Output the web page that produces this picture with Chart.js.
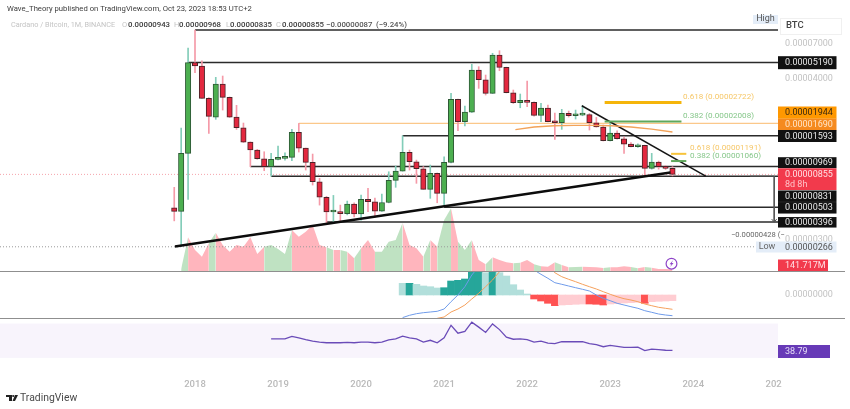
<!DOCTYPE html>
<html><head><meta charset="utf-8">
<style>html,body{margin:0;padding:0;background:#fff;overflow:hidden}canvas{display:block;filter:blur(0.35px)}</style>
<script src="https://cdn.jsdelivr.net/npm/chart.js@4"></script>
</head><body>
<canvas id="c" width="850" height="409"></canvas>
<script>
// Prices are in units of 0.00000001 BTC. Months are counted from Jan 2018 (0).
const firstMonth = -3;
const open = [499,471,1200,5190,4908,2914,2155,3670,2962,2155,1814,1439,1266,1100,969,1089,1106,1124,1685,1307,1038,759,591,466,468,454,529,451,571,550,473,543,776,902,1220,1048,936,672,870,630,1038,2868,1999,2336,4601,3935,3160,5861,4805,3190,2714,2822,2730,2215,2493,1999,1967,2288,2201,2226,2240,1967,1835,1470,1665,1518,1394,1335,1367,942,1043,969,943];
const high = [694,1806,6561,8773,5346,2950,4090,4177,2980,2603,1957,1445,1280,1232,1200,1350,1212,1767,1944,1307,1187,802,600,609,521,556,540,613,682,584,622,892,978,1593,1266,1077,969,994,875,1136,3160,2880,2574,5043,4854,4245,6026,6283,4820,3333,3125,3853,2760,2689,2616,2299,2440,2374,2413,2587,2280,2142,1895,1999,1728,1560,1430,1400,1370,1200,1060,985,968];
const low = [404,266,571,4402,2914,1657,2077,2413,2140,1767,1430,969,1090,907,832,1080,1077,1065,1226,917,720,521,391,398,404,445,430,409,468,428,470,540,694,900,917,740,672,581,541,521,1030,1728,1865,2320,3423,3074,3150,4550,3180,2680,2503,2543,2190,1999,1995,1504,1767,2155,2087,2200,1748,1830,1465,1465,1510,1200,1330,1320,846,930,930,925,835];
const close = [471,1200,5190,4908,2914,2180,3670,2962,2155,1814,1439,1266,1100,969,1089,1106,1124,1685,1307,1038,759,591,466,468,454,529,451,571,550,473,543,776,902,1220,1048,936,672,870,630,1038,2868,1999,2336,4601,3935,3160,5861,4805,3190,2714,2822,2730,2215,2493,1999,1967,2288,2201,2226,2240,1967,1835,1470,1665,1518,1394,1335,1367,942,1043,969,943,855];
const volumeM = [null,166,2797,1743,1187,2324,3179,2158,1602,2158,2017,2797,1411,2017,2158,1826,1411,3403,2847,3262,3818,2158,1967,1743,1743,1602,1054,1884,2573,1602,1602,2432,2573,4009,2158,1884,1187,2573,2017,4233,5204,2432,1743,2573,913,556,1137,913,722,639,689,913,556,390,357,722,498,307,332,357,332,307,249,307,307,390,332,224,332,274,166,166,141.7];

const macdStart = 30;
const macdHist = [117,117,107,90,83,70,73,140,147,160,283,283,223,267,223,190,103,50,10,-40,-60,-83,-107,-100,-97,-93,-90,-90,-93,-100,-90,-87,-80,-77,-73,-83,-67,-63,-60,-57];
const macdStrongMonths = [31,36,37,38,39,40,41,43,49,50,51,52,57,58,59,65];
const macdLine = [-226,-203,-187,-177,-170,-163,-140,-67,0,83,200,283,380,450,490,480,430,360,290,250,207,167,123,107,90,73,57,40,0,-33,-57,-83,-100,-117,-133,-157,-173,-190,-200,-207];
const signalStart = 35;
const signalLine = [-233,-220,-170,-140,-100,-40,17,83,150,233,300,340,370,380,370,330,290,223,183,157,133,107,83,60,33,7,-17,-37,-50,-67,-90,-107,-123,-133,-143];

const rsiStart = 11;
const rsiValues = [52.1,52.1,52.1,55.0,53.4,51.3,49.6,48.4,47.6,47.6,47.6,48.0,47.6,48.4,48.4,47.6,48.4,50.9,52.1,55.4,53.4,52.1,48.4,50.5,47.6,53.4,67.9,58.7,60.8,71.6,65.8,59.6,69.5,62.9,54.2,51.7,52.1,51.3,48.4,49.6,47.2,46.7,48.8,48.8,48.8,48.8,46.7,45.5,43.0,44.6,43.4,42.2,42.2,42.6,38.4,40.1,39.7,38.9,38.79];

const emaMonths = [46.3,49,51.9,54.8,57.3,60.2,63,66,69];
const emaValues = [1760,1835,1875,1885,1885,1875,1835,1775,1695];

const levelNames  = ['high','5190','1593','969','831','503','396'];
const levelStarts = [0,-1,30,8,11,36,19];
const levelValues = [8773,5190,1593,969,831,503,396];
const yearTicks = [0,12,24,36,48,60,72,84];
const yearLabels = ['2018','2019','2020','2021','2022','2023','2024','202\u2007'];
const priceTicks = [7000,4000,300];

const xMin = -28.18, xMax = 84.25;
const months = open.map((_, i) => firstMonth + i);
const series = (start, arr) => arr.map((y, i) => ({x: start + i, y}));
const isUp = i => close[i] >= open[i];

const UP='#4caf50', DOWN='#e3283f', UPW='#83cdb9', DOWNW='#f59aa8';
const line = (data, color, width, order, extra) => Object.assign({type:'line', data, yAxisID:'yPrice', borderColor:color, borderWidth:width, pointRadius:0, order, fill:false, tension:0}, extra||{});

const datasets = [
  {type:'line', data: months.map((x,i)=>({x,y:volumeM[i]})), yAxisID:'yVol', order:60, pointRadius:0, borderWidth:0, fill:'origin', backgroundColor:'#ffb5bd', tension:0,
   segment:{backgroundColor: c => isUp(c.p1DataIndex) ? '#bfe2c2' : '#ffb5bd', borderColor:'transparent'}},
  line([{x:xMin,y:266},{x:80.9,y:266}], '#9a9a9a', 1, 50, {borderDash:[1,2]}),
  line([{x:xMin,y:855},{x:xMax,y:855}], '#f5a3ab', 1, 50, {borderDash:[1,2]}),
  line([{x:15,y:1944},{x:xMax,y:1944}], '#fbc88a', 1.2, 40),
  ...levelNames.map((n,i)=> line([{x:levelStarts[i],y:levelValues[i]},{x:xMax,y:levelValues[i]}], '#2b2b2b', 1.5, 30)),
  {type:'bar', data: months.map((x,i)=>({x,y:[low[i],high[i]]})), yAxisID:'yPrice', grouped:false, barThickness:1, order:22,
   backgroundColor:c=>isUp(c.dataIndex)?UPW:DOWNW, borderWidth:0},
  {type:'bar', data: months.map((x,i)=>({x,y:[open[i],close[i]]})), yAxisID:'yPrice', grouped:false, barThickness:5.4, minBarLength:2, order:20,
   backgroundColor:c=>isUp(c.dataIndex)?UP:DOWN, borderColor:c=>isUp(c.dataIndex)?'#2f5a36':'#4a2328', borderWidth:1, borderSkipped:false},
  line([{x:-2.9,y:267},{x:68.7,y:881}], '#0c0c0c', 2.4, 12),
  line([{x:55.9,y:2587},{x:73.8,y:832}], '#151515', 1.5, 12),
  line(emaMonths.map((x,i)=>({x,y:emaValues[i]})), '#f2a35a', 1.4, 11),
  line([{x:59.2,y:2722},{x:70.3,y:2722}], '#f5b50a', 3, 10),
  line([{x:59.2,y:2008},{x:70.3,y:2008}], '#5fa85c', 2, 10),
  line([{x:68.8,y:1191},{x:71,y:1191}], '#f7c33a', 2, 10),
  line([{x:68.8,y:1060},{x:71,y:1060}], '#5fa85c', 2, 10),
  line([{x:83.7,y:831},{x:83.7,y:396}], '#555', 1, 10),
  line([{x:80.2,y:831},{x:83.7,y:831}], '#555', 1, 10),
  {type:'bar', data: series(macdStart, macdHist), yAxisID:'yMacd', grouped:false, barThickness:6.92, order:9, borderWidth:0,
   backgroundColor:c=>{const m=macdStart+c.dataIndex,v=macdHist[c.dataIndex],s=macdStrongMonths.includes(m);return v>=0?(s?'#26a69a':'#b2dfdb'):(s?'#ff5252':'#ffcdd2');}},
  line(series(macdStart, macdLine), '#6f9bea', 1, 8, {yAxisID:'yMacd'}),
  line(series(signalStart, signalLine), '#f5a05c', 1, 8, {yAxisID:'yMacd'}),
  line(series(rsiStart, rsiValues), '#6a4bb8', 1.3, 7, {yAxisID:'yRsi'})
];

const FONT = 'Roboto, sans-serif';
const BLACK='#111111', ORANGE='#ff9800', ORANGE2='#f58a1f', RED='#f23a4c', GREYBLUE='#e4edf8', PURPLE='#673ab7';
const tagRows = [
  {t:'0.00005190', y:62.7, h:13, bg:BLACK, fg:'#e8e8e8'},
  {t:'0.00001690', y:124.3,h:12, bg:ORANGE2, fg:'#ffe5c9'},
  {t:'0.00001944', y:112.5,h:12, bg:ORANGE, fg:'#3b2a10'},
  {t:'0.00001593', y:136, h:12, bg:BLACK, fg:'#e8e8e8'},
  {t:'0.00000969', y:162.7,h:11, bg:BLACK, fg:'#e8e8e8'},
  {t:'0.00000831', y:196.2,h:11.5, bg:BLACK, fg:'#e8e8e8'},
  {t:'0.00000503', y:207.8,h:11.5, bg:BLACK, fg:'#e8e8e8'},
  {t:'0.00000396', y:222.3,h:10.5, bg:BLACK, fg:'#e8e8e8'},
  {t:'0.00000266', y:247, h:11, bg:GREYBLUE, fg:'#555'}
];
const noPad = s => { s.paddingTop=0; s.paddingBottom=0; s.paddingLeft=0; s.paddingRight=0; };

const chrome = {
  id:'chrome',
  beforeDatasetsDraw(ch){
    const {ctx, scales:{yRsi,x}} = ch;
    ctx.save(); ctx.fillStyle='#f8f4fc';
    const a=yRsi.getPixelForValue(70), b=yRsi.getPixelForValue(30);
    ctx.fillRect(x.left,a,x.right-x.left,b-a); ctx.restore();
  },
  afterDraw(ch){
    const {ctx, width} = ch;
    const txt=(s,xx,yy,color,size,weight,align)=>{ctx.font=`${weight||400} ${size}px ${FONT}`;ctx.fillStyle=color;ctx.textAlign=align||'left';ctx.textBaseline='middle';ctx.fillText(s,xx,yy);};
    ctx.save();
    ctx.strokeStyle='#8f8f8f'; ctx.lineWidth=1.2;
    [ch.scales.yPrice.bottom, ch.scales.yMacd.bottom].forEach(y=>{ctx.beginPath();ctx.moveTo(0,y+0.5);ctx.lineTo(width-5,y+0.5);ctx.stroke();});
    txt('Wave_Theory published on TradingView.com, Oct 23, 2023 18:53 UTC+2',7,9.5,'#3c3c3c',7.7);
    txt('Cardano / Bitcoin, 1M, BINANCE',11,25.5,'#c4c4c4',7.3);
    [['O',122,128,'0.00000943'],['H',174,179,'0.00000968'],['L',226,230,'0.00000835'],['C',276,282,'0.00000855']].forEach(r=>{
      txt(r[0],r[1],25.5,'#c4c4c4',7.5); txt(r[3],r[2],25.5,'#3c3c3c',7.8,500);});
    txt('\u22120.00000087',326,25.5,'#555',7.8,500);
    txt('(\u22129.24%)',376,25.5,'#555',7.8,500);
    txt('0.618 (0.00002722)',683,96.7,'#f6c768',8.1);
    txt('0.382 (0.00002008)',683,116,'#86c78a',8.1);
    txt('0.618 (0.00001191)',690,147.8,'#f6c768',8.1);
    txt('0.382 (0.00001060)',690,155.8,'#86c78a',8.1);
    ctx.fillStyle=GREYBLUE; ctx.fillRect(753,15,25,9);
    txt('High',765.5,18.5,'#555',9,400,'center');
    ctx.strokeStyle='#f0f0f0'; ctx.lineWidth=1; ctx.strokeRect(780.5,18.5,61,16);
    txt('BTC',786,26,'#444',9.5,500);
    tagRows.forEach(r=>{ctx.fillStyle=r.bg;ctx.fillRect(778,r.y-r.h/2,58.5,r.h);txt(r.t,785,r.y+0.3,r.fg,9);});
    ctx.fillStyle=RED; ctx.fillRect(778,168.3,58.5,21.7);
    txt('0.00000855',785,174.7,'#ffe1e4',9); txt('8d 8h',785,184.3,'#ffc3c9',9);
    ctx.fillStyle=GREYBLUE; ctx.fillRect(756,241.5,22,11);
    txt('Low',767,247,'#666',9,400,'center');
    ctx.fillStyle='rgba(255,255,255,.95)'; ctx.fillRect(728,230,51,10);
    txt('\u22120.00000428 (\u2212',731,235.2,'#666',7.6);
    // arrow head of the measure tool
    const ax=ch.scales.x.getPixelForValue(83.7), ay=ch.scales.yPrice.getPixelForValue(396);
    ctx.strokeStyle='#555'; ctx.lineWidth=1; ctx.beginPath(); ctx.moveTo(ax-2.5,ay-3); ctx.lineTo(ax,ay); ctx.lineTo(ax+2.5,ay-3); ctx.stroke();
    ctx.fillStyle=RED; ctx.fillRect(778,259.5,50,11.5);
    txt('141.717M',785,265.3,'#ffe1e4',9);
    ctx.fillStyle=PURPLE; ctx.fillRect(778,345,52,13);
    txt('38.79',785,351.5,'#e6dcf7',9);
    ctx.strokeStyle='#8e44c8'; ctx.lineWidth=1.2; ctx.beginPath(); ctx.arc(671.5,263.7,5.4,0,Math.PI*2); ctx.fillStyle='#fff'; ctx.fill(); ctx.stroke();
    ctx.fillStyle='#8e44c8'; ctx.beginPath(); ctx.moveTo(673,260.3);ctx.lineTo(669.6,264.2);ctx.lineTo(671.4,264.2);ctx.lineTo(670.2,267);ctx.lineTo(673.5,263);ctx.lineTo(671.7,263);ctx.closePath();ctx.fill();
    ctx.fillStyle='#222';
    ctx.fillRect(6,395,6,2); ctx.fillRect(9,395,3,6);
    ctx.beginPath();ctx.arc(13.2,396,1.1,0,Math.PI*2);ctx.fill();
    ctx.beginPath();ctx.moveTo(15,395);ctx.lineTo(18,395);ctx.lineTo(15,401);ctx.lineTo(12.5,401);ctx.closePath();ctx.fill();
    txt('TradingView',20,398.2,'#4a4a4a',10.4);
    ctx.restore();
  }
};

new Chart(document.getElementById('c'), {
  data:{datasets},
  plugins:[chrome],
  options:{
    responsive:false, animation:false, devicePixelRatio:1,
    layout:{padding:0},
    plugins:{legend:{display:false}, tooltip:{enabled:false}},
    scales:{
      x:{type:'linear', position:'bottom', offset:false, min:xMin, max:xMax, grid:{display:false, offset:false, drawTicks:false}, border:{display:false},
         afterBuildTicks(s){s.ticks=yearTicks.map(value=>({value}));},
         afterFit(s){s.height=37; noPad(s);},
         ticks:{autoSkip:false, maxRotation:0, padding:6.5, color:'#b9b9b9', font:{family:FONT,size:9.5,weight:'500'},
                callback:v=>yearLabels[yearTicks.indexOf(v)]}},
      yPrice:{type:'logarithmic', position:'right', stack:'panes', stackWeight:271, min:180, max:14233, bounds:'data',
         grid:{display:false, drawTicks:false}, border:{display:false},
         afterBuildTicks(s){s.ticks=priceTicks.map(value=>({value}));},
         afterFit(s){s.width=72; noPad(s);},
         ticks:{autoSkip:false, padding:7, color:'#c2c2c2', font:{family:FONT,size:9}, callback:v=>(v/1e8).toFixed(8)}},
      yMacd:{type:'linear', position:'right', stack:'panes', stackWeight:47, min:-230, max:240,
         grid:{display:false, drawTicks:false}, border:{display:false},
         afterBuildTicks(s){s.ticks=[{value:0}];},
         afterFit(s){s.width=72; noPad(s);},
         ticks:{autoSkip:false, padding:7, color:'#c2c2c2', font:{family:FONT,size:9}, callback:v=>(v/1e8).toFixed(8)}},
      yRsi:{type:'linear', position:'right', stack:'panes', stackWeight:54, min:13.6, max:76.4,
         grid:{display:false, drawTicks:false}, border:{display:false},
         afterFit(s){s.width=72; noPad(s);},
         ticks:{display:false}},
      yVol:{type:'linear', display:false, min:-8383, max:22493}
    }
  }
});
</script>
</body></html>
